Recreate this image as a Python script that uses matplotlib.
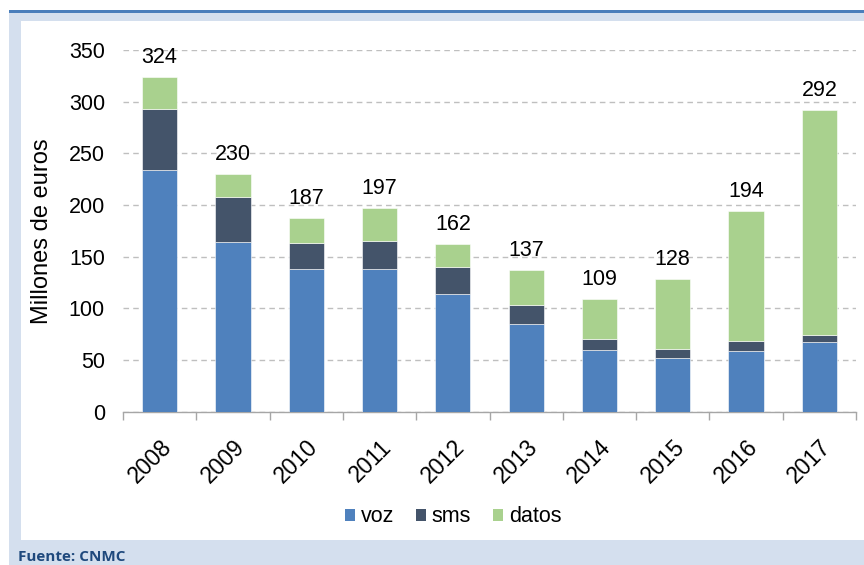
import matplotlib
matplotlib.use("Agg")
import matplotlib.pyplot as plt
from matplotlib.patches import Rectangle, Patch
import numpy as np

plt.rcParams['font.family'] = ['Liberation Sans', 'DejaVu Sans']

years = ["2008", "2009", "2010", "2011", "2012", "2013", "2014", "2015", "2016", "2017"]
voz = [234, 164, 138, 138, 114, 85, 60, 52, 59, 67]
sms = [59, 44, 25, 27, 26, 18, 10, 9, 9, 7]
datos = [31, 22, 24, 32, 22, 34, 39, 67, 126, 218]
series_names = ["voz", "sms", "datos"]
colors = ["#4F81BD", "#44546A", "#A9D18E"]
yticks = [0, 50, 100, 150, 200, 250, 300, 350]

W, H = 864, 565
fig = plt.figure(figsize=(W / 100, H / 100), dpi=100)
fig.patch.set_facecolor("white")

def px_rect(x0, y0, x1, y1, color, z):
    fig.patches.append(Rectangle((x0 / W, 1 - y1 / H), (x1 - x0) / W, (y1 - y0) / H,
                                 transform=fig.transFigure, facecolor=color,
                                 edgecolor="none", zorder=z))

px_rect(9, 10, 864, 565, "#D4DFEE", 0)
px_rect(9, 10, 864, 13, "#4A7EBB", 1)
px_rect(21, 21, 864, 540, "white", 1)

ax_l, ax_r, ax_b, ax_t = 123, 856, 411.7, 49.8
ax = fig.add_axes([ax_l / W, 1 - ax_b / H, (ax_r - ax_l) / W, (ax_b - ax_t) / H])
ax.set_facecolor("none")
ax.set_zorder(2)

x = np.arange(len(years))
bottom = np.zeros(len(years))
data = [voz, sms, datos]
for vals, name, c in zip(data, series_names, colors):
    ax.bar(x, vals, width=0.48, bottom=bottom, color=c, label=name,
           edgecolor="white", linewidth=0.4, zorder=3)
    bottom = bottom + np.array(vals)

for xi, tot in zip(x, bottom):
    ax.annotate(f"{int(tot)}", (xi, tot), xytext=(0, 6.5), textcoords="offset points",
                ha="center", va="bottom", fontsize=15.5, color="#000000")

ax.set_xlim(-0.5, len(years) - 0.5)
ax.set_ylim(0, 350)
ax.set_yticks(yticks)
ax.set_yticklabels([str(t) for t in yticks], fontsize=15.5)
ax.yaxis.grid(True, linestyle=(0, (4, 3)), color="#BFBFBF", linewidth=1)
ax.set_axisbelow(True)
ax.tick_params(axis="y", length=0, pad=13)

ax.set_xticks(x)
ax.set_xticklabels(years, rotation=45, ha="right", rotation_mode="anchor", fontsize=16.5)
ax.tick_params(axis="x", which="major", length=0, pad=17)
ax.set_xticks(np.arange(-0.5, len(years)), minor=True)
ax.tick_params(axis="x", which="minor", length=6, color="#A6A6A6", width=1)

for s in ["top", "right", "left"]:
    ax.spines[s].set_visible(False)
ax.spines["bottom"].set_color("#A6A6A6")
ax.spines["bottom"].set_linewidth(1)

ax.set_ylabel("Millones de euros", fontsize=17)
ax.yaxis.set_label_coords(-0.095, 0.5)

handles = [Patch(facecolor=c, edgecolor="none", label=n) for c, n in zip(colors, series_names)]
leg = fig.legend(handles=handles, loc="center", bbox_to_anchor=(453 / W, 1 - 517 / H),
                 ncol=3, frameon=False, fontsize=15.5, handlelength=0.5, handleheight=0.5,
                 handletextpad=0.25, columnspacing=1.0)

fig.text(18 / W, 1 - 557 / H, "Fuente: CNMC", fontsize=11, fontweight="bold",
         color="#1F497D", family=["Open Sans", "DejaVu Sans"], ha="left", va="center")

fig.savefig("out.png", dpi=100, facecolor=fig.get_facecolor())
